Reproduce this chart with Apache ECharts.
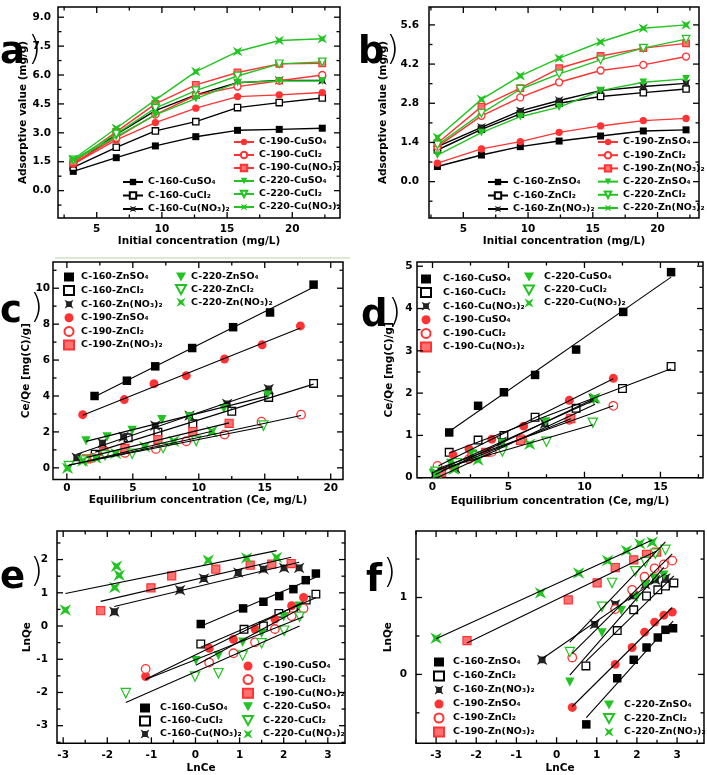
<!DOCTYPE html>
<html><head><meta charset="utf-8">
<script src="https://cdn.jsdelivr.net/npm/echarts@6/dist/echarts.min.js"></script>
<style>html,body{margin:0;padding:0;background:#fff}#chart{width:707px;height:775px}</style>
</head><body><div id="chart"></div>
<script>
// ================= DATA =================
const cuNames = ['C-160-CuSO₄','C-160-CuCl₂','C-160-Cu(NO₃)₂','C-190-CuSO₄','C-190-CuCl₂','C-190-Cu(NO₃)₂','C-220-CuSO₄','C-220-CuCl₂','C-220-Cu(NO₃)₂'];
const znNames = ['C-160-ZnSO₄','C-160-ZnCl₂','C-160-Zn(NO₃)₂','C-190-ZnSO₄','C-190-ZnCl₂','C-190-Zn(NO₃)₂','C-220-ZnSO₄','C-220-ZnCl₂','C-220-Zn(NO₃)₂'];

const aConc = [3.2, 6.5, 9.5, 12.6, 15.8, 19.0, 22.3];
const a160SO4 = [1.00, 1.71, 2.32, 2.80, 3.13, 3.18, 3.24];
const a160Cl2 = [1.21, 2.25, 3.10, 3.58, 4.31, 4.57, 4.81];
const a160NO3 = [1.33, 2.92, 4.15, 4.97, 5.60, 5.72, 5.72];
const a190SO4 = [1.38, 2.63, 3.53, 4.28, 4.88, 4.97, 5.09];
const a190Cl2 = [1.42, 2.75, 3.95, 4.95, 5.40, 5.70, 6.00];
const a190NO3 = [1.47, 3.05, 4.50, 5.49, 6.13, 6.58, 6.61];
const a220SO4 = [1.56, 2.80, 3.93, 4.78, 5.61, 5.69, 5.69];
const a220Cl2 = [1.59, 2.95, 4.28, 5.19, 5.95, 6.58, 6.68];
const a220NO3 = [1.63, 3.24, 4.71, 6.18, 7.22, 7.79, 7.88];

const bConc = [3.0, 6.4, 9.4, 12.4, 15.6, 18.9, 22.2];
const b160SO4 = [0.54, 0.95, 1.25, 1.45, 1.63, 1.81, 1.85];
const b160Cl2 = [1.13, 1.87, 2.42, 2.80, 3.04, 3.18, 3.31];
const b160NO3 = [1.25, 1.94, 2.53, 2.90, 3.25, 3.40, 3.51];
const b190SO4 = [0.66, 1.17, 1.43, 1.76, 1.99, 2.18, 2.26];
const b190Cl2 = [1.25, 2.35, 3.01, 3.55, 3.97, 4.17, 4.47];
const b190NO3 = [1.37, 2.68, 3.34, 4.05, 4.49, 4.77, 4.94];
const b220SO4 = [0.95, 1.75, 2.32, 2.66, 3.25, 3.55, 3.67];
const b220Cl2 = [1.31, 2.44, 3.30, 3.85, 4.35, 4.77, 5.09];
const b220NO3 = [1.58, 2.94, 3.78, 4.41, 4.99, 5.48, 5.60];

const c160SO4 = [[2.1,4.0],[4.55,4.85],[6.7,5.65],[9.5,6.67],[12.6,7.83],[15.4,8.65],[18.7,10.2]];
const c160Cl2 = [[2.15,0.76],[4.65,1.67],[6.9,1.98],[9.55,2.45],[12.5,3.15],[15.3,3.92],[18.7,4.70]];
const c160NO3 = [[0.75,0.56],[2.7,1.37],[4.3,1.72],[6.7,2.35],[9.3,2.91],[12.15,3.56],[15.3,4.39]];
const c190SO4 = [[1.2,2.96],[4.35,3.80],[6.6,4.68],[9.05,5.13],[11.95,6.06],[14.8,6.85],[17.7,7.9]];
const c190Cl2 = [[1.95,0.55],[4.4,0.83],[6.75,1.05],[9.05,1.48],[11.95,1.85],[14.75,2.57],[17.75,2.96]];
const c190NO3 = [[1.5,0.5],[2.8,0.9],[4.4,1.08],[6.9,1.57],[9.55,2.02],[12.3,2.48]];
const c220SO4 = [[1.45,1.5],[3.05,1.72],[4.95,2.08],[7.2,2.68],[9.3,2.83],[11.9,3.3],[15.2,4.05]];
const c220Cl2 = [[0.15,0.1],[1.4,0.4],[2.9,0.7],[4.95,0.78],[7.3,1.1],[9.8,1.5],[14.9,2.35]];
const c220NO3 = [[0.05,-0.02],[1.2,0.38],[2.2,0.55],[3.7,0.8],[5.9,1.17],[8.1,1.48],[11.0,2.02]];

const d160SO4 = [[1.1,1.07],[3.0,1.70],[4.7,2.02],[6.75,2.43],[9.45,3.03],[12.55,3.92],[15.7,4.86]];
const d160Cl2 = [[1.1,0.6],[3.0,0.89],[4.7,1.0],[6.75,1.43],[9.45,1.64],[12.5,2.11],[15.7,2.63]];
const d160NO3 = [[0.2,0.1],[1.5,0.22],[2.6,0.54],[4.55,0.85],[7.4,1.28],[10.6,1.87]];
const d190SO4 = [[0.4,0.2],[1.35,0.54],[2.4,0.68],[3.9,0.91],[6.0,1.22],[9.0,1.83],[11.9,2.35]];
const d190Cl2 = [[0.33,0.28],[2.4,0.44],[3.9,0.61],[5.9,0.91],[9.0,1.37],[11.9,1.7]];
const d190NO3 = [[0.6,0.12],[1.4,0.3],[2.6,0.5],[3.5,0.6],[5.8,0.88],[9.1,1.4]];
const d220SO4 = [[0.05,0.1],[1.2,0.34],[2.6,0.56],[4.6,0.81],[7.45,1.32],[10.6,1.83]];
const d220Cl2 = [[0.2,0.14],[1.6,0.34],[2.9,0.5],[4.6,0.62],[7.5,0.85],[10.55,1.30]];
const d220NO3 = [[0.3,0.1],[1.4,0.2],[3.0,0.42],[6.4,0.79],[10.7,1.88]];

const e160SO4 = [[0.12,0.06],[1.08,0.53],[1.54,0.73],[1.9,0.9],[2.22,1.11],[2.5,1.38],[2.73,1.58]];
const e160Cl2 = [[0.12,-0.54],[1.1,-0.1],[1.54,0.0],[1.89,0.38],[2.22,0.48],[2.51,0.78],[2.73,0.96]];
const e160NO3 = [[-1.84,0.43],[-0.35,1.08],[0.19,1.43],[0.97,1.61],[1.54,1.71],[2.01,1.75],[2.35,1.75]];
const e190SO4 = [[-1.13,-1.52],[0.31,-0.67],[0.86,-0.4],[1.35,-0.09],[1.8,0.21],[2.18,0.61],[2.45,0.86]];
const e190Cl2 = [[-1.13,-1.29],[0.31,-1.1],[0.86,-0.82],[1.35,-0.49],[1.8,-0.09],[2.18,0.3],[2.45,0.53]];
const e190NO3 = [[-2.15,0.46],[-1.01,1.15],[-0.54,1.51],[0.46,1.71],[1.24,1.83],[1.73,1.86],[2.17,1.88]];
const e220SO4 = [[0.01,-1.04],[0.52,-0.89],[1.07,-0.49],[1.5,-0.22],[2.0,0.28],[2.35,0.6]];
const e220Cl2 = [[-1.58,-2.02],[-0.01,-1.52],[0.52,-1.42],[1.07,-0.89],[1.5,-0.52],[2.01,-0.14],[2.36,0.28]];
const e220NO3 = [[-2.95,0.48],[-1.83,1.16],[-1.79,1.8],[-1.73,1.53],[0.29,1.98],[1.16,2.05],[1.84,2.06]];

const f160SO4 = [[0.74,-0.65],[1.51,-0.05],[1.92,0.19],[2.24,0.35],[2.52,0.48],[2.71,0.58],[2.9,0.6]];
const f160Cl2 = [[0.73,0.11],[1.51,0.57],[1.92,0.84],[2.24,1.02],[2.52,1.1],[2.71,1.15],[2.92,1.19]];
const f160NO3 = [[-0.36,0.19],[0.95,0.65],[1.46,0.91],[1.9,1.02],[2.21,1.17],[2.46,1.23],[2.71,1.25]];
const f190SO4 = [[0.39,-0.43],[1.46,0.13],[1.88,0.35],[2.19,0.55],[2.44,0.68],[2.67,0.77],[2.88,0.81]];
const f190Cl2 = [[0.39,0.22],[1.46,0.85],[1.88,1.1],[2.19,1.27],[2.44,1.38],[2.67,1.43],[2.88,1.48]];
const f190NO3 = [[-2.23,0.44],[0.29,0.97],[1.01,1.19],[1.46,1.39],[1.92,1.49],[2.24,1.56],[2.49,1.59]];
const f220SO4 = [[0.33,-0.1],[1.13,0.54],[1.61,0.83],[1.99,1.0],[2.21,1.16],[2.44,1.25],[2.67,1.29]];
const f220Cl2 = [[0.33,0.29],[1.13,0.88],[1.38,1.19],[1.96,1.34],[2.21,1.46],[2.46,1.57],[2.71,1.62]];
const f220NO3 = [[-3.0,0.47],[-0.4,1.06],[0.55,1.32],[1.27,1.48],[1.74,1.61],[2.07,1.7],[2.38,1.72]];

const aXTicks = [5,10,15,20];        const aYTicks = [0,1.5,3,4.5,6,7.5,9];
const bXTicks = [5,10,15,20];        const bYTicks = [0,1.4,2.8,4.2,5.6];
const cXTicks = [0,5,10,15,20];      const cYTicks = [0,2,4,6,8,10];
const dXTicks = [0,5,10,15];         const dYTicks = [0,1,2,3,4,5];
const eXTicks = [-3,-2,-1,0,1,2,3];  const eYTicks = [-3,-2,-1,0,1,2];
const fXTicks = [-3,-2,-1,0,1,2,3];  const fYTicks = [0,1];

// ================= STYLE / LAYOUT =================
const FONT = 'DejaVu Sans';
const BLK = '#000000', RED = '#ff3333', GRN = '#22c422';
const P_STAR = 'path://M0,0L3.4,1.8L6.6,1.8L10,0L8.2,3.4L8.2,6.6L10,10L6.6,8.2L3.4,8.2L0,10L1.8,6.6L1.8,3.4Z';
const P_XSTAR = 'path://M0,0L5,2.8L10,0L7.2,5L10,10L5,7.2L0,10L2.8,5Z';
const P_TRI = 'path://M0,0L10,0L5,9Z';
const STY = [
  {symbol:'rect',  fill:BLK,    stroke:BLK, bw:0,   s:1.0},
  {symbol:'rect',  fill:'#fff', stroke:BLK, bw:1.3, s:0.9},
  {symbol:P_STAR,  fill:'#222', stroke:BLK, bw:0,   s:1.25},
  {symbol:'circle',fill:RED,    stroke:RED, bw:0,   s:1.05},
  {symbol:'circle',fill:'#fff', stroke:RED, bw:1.3, s:1.0},
  {symbol:'rect',  fill:'#ff7070', stroke:RED, bw:1.2, s:0.95},
  {symbol:P_TRI,   fill:GRN,    stroke:GRN, bw:0,   s:1.1},
  {symbol:P_TRI,   fill:'#fff', stroke:GRN, bw:1.2, s:1.1},
  {symbol:P_XSTAR, fill:GRN,    stroke:GRN, bw:0,   s:1.35}
];

const PANELS = [
  {id:'a', kind:'line', names:cuNames, xs:aConc,
   vals:[a160SO4,a160Cl2,a160NO3,a190SO4,a190Cl2,a190NO3,a220SO4,a220Cl2,a220NO3],
   g:[58,7,282,211],
   x:{min:2.03,max:23.66,ticks:aXTicks,dec:0,margin:6,title:'Initial concentration (mg/L)',gap:17},
   y:{min:-1.42,max:9.53,ticks:aYTicks,dec:1,margin:7,title:'Adsorptive value (mg/g)',gap:28},
   legends:[{idx:[0,1,2],left:122,top:176,gap:1.5},{idx:[3,4,5,6,7,8],left:233,top:136,gap:1}],
   label:{x:0,y:35,px:28,py:34}},
  {id:'b', kind:'line', names:znNames, xs:bConc,
   vals:[b160SO4,b160Cl2,b160NO3,b190SO4,b190Cl2,b190NO3,b220SO4,b220Cl2,b220NO3],
   g:[429,7,270,211],
   x:{min:2.35,max:23.2,ticks:bXTicks,dec:0,margin:6,title:'Initial concentration (mg/L)',gap:17},
   y:{min:-1.3,max:6.24,ticks:bYTicks,dec:1,margin:10,title:'Adsorptive value (mg/g)',gap:40},
   legends:[{idx:[0,1,2],left:487,top:176,gap:1.5},{idx:[3,4,5,6,7,8],left:597,top:136,gap:1.2}],
   label:{x:358,y:35,px:386,py:34}},
  {id:'c', kind:'scatter', names:znNames,
   pts:[c160SO4,c160Cl2,c160NO3,c190SO4,c190Cl2,c190NO3,c220SO4,c220Cl2,c220NO3],
   g:[53,262,290,217.5],
   x:{min:-1.05,max:20.93,ticks:cXTicks,dec:0,margin:3,title:'Equilibrium concentration (Ce, mg/L)',gap:14},
   y:{min:-0.65,max:11.46,ticks:cYTicks,dec:0,margin:3,title:'Ce/Qe [mg(C)/g]',gap:19},
   legends:[{idx:[0,1,2,3,4,5],left:63,top:271,gap:1.6,pad:2},{idx:[6,7,8],left:175,top:271,gap:0.6,pad:0}],
   label:{x:0,y:294,px:30,py:292}},
  {id:'d', kind:'scatter', names:cuNames,
   pts:[d160SO4,d160Cl2,d160NO3,d190SO4,d190Cl2,d190NO3,d220SO4,d220Cl2,d220NO3],
   g:[417,262,286,215.7],
   x:{min:-1.02,max:17.8,ticks:dXTicks,dec:0,margin:4,title:'Equilibrium concentration (Ce, mg/L)',gap:18},
   y:{min:0,max:5.1,ticks:dYTicks,dec:0,margin:4.5,title:'Ce/Qe [mg(C)/g]',gap:22},
   legends:[{idx:[0,1,2,3,4,5],left:420,top:273,gap:1.6,pad:7},{idx:[6,7,8],left:523,top:271,gap:1,pad:5}],
   label:{x:361,y:298,px:388,py:297}},
  {id:'e', kind:'scatter', names:cuNames,
   pts:[e160SO4,e160Cl2,e160NO3,e190SO4,e190Cl2,e190NO3,e220SO4,e220Cl2,e220NO3],
   g:[57,531,288,212.3],
   x:{min:-3.14,max:3.39,ticks:eXTicks,dec:0,margin:6,title:'LnCe',gap:19},
   y:{min:-3.53,max:2.86,ticks:eYTicks,dec:0,margin:9,title:'LnQe',gap:23},
   legends:[{idx:[0,1,2],left:139,top:702,gap:1,pad:5},{idx:[3,4,5,6,7,8],left:242,top:660,gap:1.6,pad:5}],
   label:{x:0,y:560,px:30,py:556}},
  {id:'f', kind:'scatter', names:znNames,
   pts:[f160SO4,f160Cl2,f160NO3,f190SO4,f190Cl2,f190NO3,f220SO4,f220Cl2,f220NO3],
   g:[416,531,288,212.3],
   x:{min:-3.5,max:3.67,ticks:fXTicks,dec:0,margin:6,title:'LnCe',gap:19},
   y:{min:-0.896,max:1.865,ticks:fYTicks,dec:0,margin:9,title:'LnQe',gap:22},
   legends:[{idx:[0,1,2,3,4,5],left:433,top:656,gap:2,pad:4},{idx:[6,7,8],left:603,top:699,gap:1.5,pad:5}],
   label:{x:366,y:563,px:383,py:557}}
];

function minorTicks(major, min, max) {
  const step = major.length > 1 ? major[1] - major[0] : 1;
  const out = [];
  for (let v = major[0] - step / 2 - 20 * step; v <= max + 1e-9; v += step) {
    if (v >= min - 1e-9) out.push(+v.toFixed(6));
  }
  return out;
}
function fitLine(pts) {
  const n = pts.length;
  let mx = 0, my = 0;
  pts.forEach(p => { mx += p[0]; my += p[1]; });
  mx /= n; my /= n;
  let sxy = 0, sxx = 0;
  pts.forEach(p => { sxy += (p[0]-mx)*(p[1]-my); sxx += (p[0]-mx)*(p[0]-mx); });
  const b = sxy / sxx, a = my - b * mx;
  const xs = pts.map(p => p[0]);
  const x0 = Math.min(...xs), x1 = Math.max(...xs);
  return [[x0, a + b*x0], [x1, a + b*x1]];
}
const txt = (size, extra) => Object.assign({color:'#000', fontFamily:FONT, fontWeight:'bold', fontSize:size}, extra || {});

// Frame ticks (inward, on all four sides), positioned through the axis scales
function tickSeries(p, P, dim) {
  const A = P[dim];
  const major = A.ticks.filter(v => v >= A.min && v <= A.max);
  const minor = minorTicks(A.ticks, A.min, A.max);
  const vals = major.map(v => [v, 6]).concat(minor.map(v => [v, 3.5]));
  const data = vals.map(t => dim === 'x' ? [t[0], P.y.min, t[1]] : [P.x.min, t[0], t[1]]);
  return {
    type:'custom', coordinateSystem:'cartesian2d', xAxisIndex:p, yAxisIndex:p, silent:true, z:10, clip:false,
    dimensions:['x','y','len'], encode:{x:0, y:1},
    data:data,
    renderItem(params, api) {
      const cs = params.coordSys;
      const len = api.value(2);
      const pt = api.coord([api.value(0), api.value(1)]);
      const st = {stroke:'#000', lineWidth:1.3, fill:null};
      if (dim === 'x') {
        const px = pt[0];
        return {type:'group', children:[
          {type:'line', shape:{x1:px, y1:cs.y + cs.height, x2:px, y2:cs.y + cs.height - len}, style:st},
          {type:'line', shape:{x1:px, y1:cs.y, x2:px, y2:cs.y + len}, style:st}
        ]};
      }
      const py = pt[1];
      return {type:'group', children:[
        {type:'line', shape:{x1:cs.x, y1:py, x2:cs.x + len, y2:py}, style:st},
        {type:'line', shape:{x1:cs.x + cs.width, y1:py, x2:cs.x + cs.width - len, y2:py}, style:st}
      ]};
    }
  };
}

const option = {animation:false, backgroundColor:'#fff', grid:[], xAxis:[], yAxis:[], series:[], legend:[], graphic:[]};

PANELS.forEach((P, p) => {
  option.grid.push({left:P.g[0], top:P.g[1], width:P.g[2], height:P.g[3], show:true,
    borderColor:'#000', borderWidth:1.5, backgroundColor:'rgba(0,0,0,0)', containLabel:false});
  ['x','y'].forEach(dim => {
    const A = P[dim];
    (dim === 'x' ? option.xAxis : option.yAxis).push({
      gridIndex:p, type:'value', min:A.min, max:A.max, position: dim === 'x' ? 'bottom' : 'left',
      axisLine:{show:false, onZero:false}, splitLine:{show:false}, axisTick:{show:false},
      axisLabel:{show:true, customValues:A.ticks, margin:A.margin,
        formatter: v => Number(v).toFixed(A.dec), ...txt(10.5)},
      name:A.title, nameLocation:'middle', nameGap:A.gap, nameTextStyle:txt(10.5)
    });
    option.series.push(tickSeries(p, P, dim));
  });

  if (P.kind === 'line') {
    P.names.forEach((nm, k) => {
      const S = STY[k];
      option.series.push({
        type:'line', name:nm + '#' + P.id, xAxisIndex:p, yAxisIndex:p,
        data:P.xs.map((x, j) => [x, P.vals[k][j]]),
        symbol:S.symbol, symbolSize:7 * S.s, showAllSymbol:true,
        itemStyle:{color:S.fill, borderColor:S.stroke, borderWidth:S.bw},
        lineStyle:{color:S.stroke, width:1.4}, z:2 + k * 0.01
      });
    });
  } else {
    P.names.forEach((nm, k) => {
      const S = STY[k];
      option.series.push({
        type:'scatter', name:nm + '#' + P.id, xAxisIndex:p, yAxisIndex:p,
        data:P.pts[k], symbol:S.symbol, symbolSize:8.5 * S.s,
        itemStyle:{color:S.fill, borderColor:S.stroke, borderWidth:S.bw, opacity:1}, z:2
      });
    });
    P.names.forEach((nm, k) => {
      option.series.push({
        type:'line', name:'fit-' + P.id + k, xAxisIndex:p, yAxisIndex:p,
        data:fitLine(P.pts[k]), symbol:'none', silent:true,
        lineStyle:{color:'#000', width:1.1}, z:3
      });
    });
  }

  P.legends.forEach(L => {
    option.legend.push({
      orient:'vertical', left:L.left, top:L.top, padding:0, itemGap:L.gap,
      itemWidth: P.kind === 'line' ? 20 : 10, itemHeight: P.kind === 'line' ? 8 : 9,
      selectedMode:false,
      data:L.idx.map(k => P.names[k] + '#' + P.id),
      formatter: n => n.split('#')[0],
      textStyle: txt(9.5, {padding:[0,0,0,L.pad || 0], lineHeight:12})
    });
  });

  option.graphic.push(
    {type:'text', style:{x:P.label.x, y:P.label.y, text:P.id, fill:'#000',
      font:'bold 37px "DejaVu Sans"', textBaseline:'alphabetic'}},
    {type:'text', style:{x:P.label.px, y:P.label.py, text:')', fill:'#000',
      font:'200 34px "DejaVu Sans ExtraLight", "DejaVu Sans"', textBaseline:'alphabetic'}}
  );
});

option.graphic.push({type:'line', shape:{x1:55, y1:258, x2:350, y2:258},
  style:{stroke:'#dbe8d2', lineWidth:2}});

const chart = echarts.init(document.getElementById('chart'), null, {renderer:'canvas'});
chart.setOption(option);
</script>
</body></html>
